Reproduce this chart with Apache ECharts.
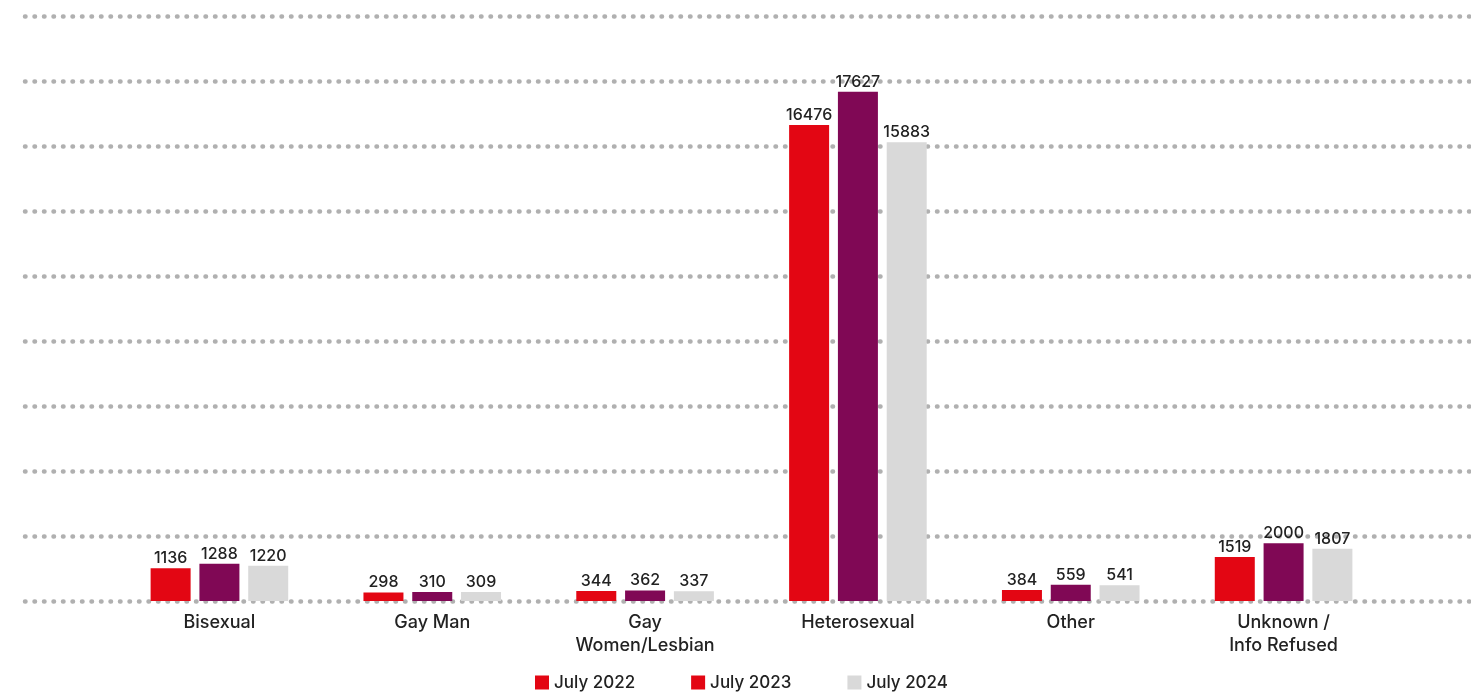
<!DOCTYPE html>
<html>
<head>
<meta charset="utf-8">
<script src="https://cdn.jsdelivr.net/npm/echarts@6/dist/echarts.min.js"></script>
<style>
html,body{margin:0;padding:0;background:#fff;}
#c{width:1471px;height:695px;}
</style>
</head>
<body>
<div id="c"></div>
<script>
const categories = ['Bisexual', 'Gay Man', 'Gay\nWomen/Lesbian', 'Heterosexual', 'Other', 'Unknown /\nInfo Refused'];
const seriesNames = ['July 2022', 'July 2023', 'July 2024'];
const july2022 = [1136, 298, 344, 16476, 384, 1519];
const july2023 = [1288, 310, 362, 17627, 559, 2000];
const july2024 = [1220, 309, 337, 15883, 541, 1807];
const colors = ['#E30613', '#800855', '#D9D9D9'];
const legendIconColors = ['#E30613', '#E30613', '#D9D9D9'];

const FONT = 'Inter';
const yMax = 20250, yInterval = 2250;

const chart = echarts.init(document.getElementById('c'), null, {renderer: 'canvas'});
const dotted = {color: '#b0b0b0', width: 4.5, type: [0.5, 9], cap: 'round'};

const allData = [july2022, july2023, july2024];
chart.setOption({
  backgroundColor: '#fff',
  animation: false,
  textStyle: {fontFamily: FONT},
  grid: [
    {left: 25, right: 0, top: 16, bottom: 94},
    {left: 113, right: 81, top: 16, bottom: 94}
  ],
  legend: {
    left: 530, top: 669,
    itemWidth: 14, itemHeight: 14, itemGap: 56,
    icon: 'rect',
    textStyle: {fontSize: 17, color: '#222', fontFamily: FONT, fontWeight: 500},
    data: seriesNames.map((n, i) => ({name: n, itemStyle: {color: legendIconColors[i]}}))
  },
  xAxis: [
    {gridIndex: 0, type: 'category', data: categories, show: false},
    {gridIndex: 1, type: 'category', data: categories,
     axisLine: {show: false}, axisTick: {show: false},
     axisLabel: {fontSize: 18, color: '#222', margin: 10, lineHeight: 23, fontFamily: FONT, fontWeight: 500, interval: 0}}
  ],
  yAxis: [
    {gridIndex: 0, type: 'value', min: 0, max: yMax, interval: yInterval,
     axisLabel: {show: false}, axisLine: {show: false}, axisTick: {show: false},
     splitLine: {show: true, lineStyle: dotted}},
    {gridIndex: 1, type: 'value', min: 0, max: yMax, interval: yInterval,
     axisLabel: {show: false}, axisLine: {show: false}, axisTick: {show: false},
     splitLine: {show: false}}
  ],
  series: seriesNames.map((n, i) => ({
    name: n, type: 'bar', xAxisIndex: 1, yAxisIndex: 1,
    data: allData[i], barWidth: 40, barGap: '22%',
    itemStyle: {color: colors[i]},
    label: {show: true, position: 'top', distance: 2, fontSize: 16, color: '#222', fontFamily: FONT, fontWeight: 500}
  }))
});
</script>
</body>
</html>
